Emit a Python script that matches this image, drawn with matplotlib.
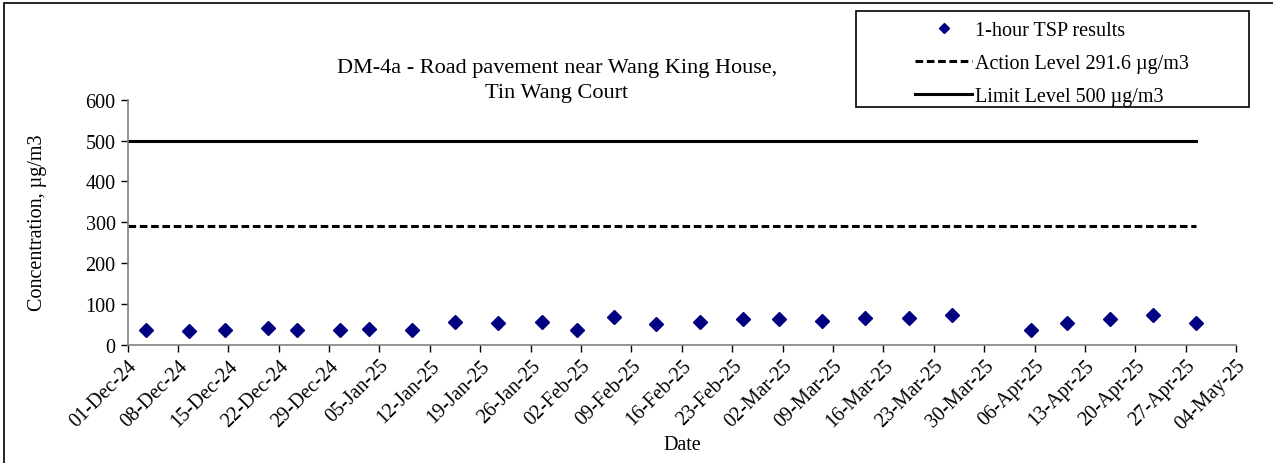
import matplotlib
matplotlib.use("Agg")
import matplotlib.pyplot as plt
import matplotlib.dates as mdates
import pandas as pd
from matplotlib.patches import Rectangle

plt.rcParams['font.family'] = ['Liberation Serif', 'DejaVu Serif']

# 1-hour TSP sampling times and results (ug/m3)
sample_times = [
    '2024-12-03 14:00', '2024-12-09 12:00', '2024-12-14 12:00', '2024-12-20 13:00',
    '2024-12-24 14:00', '2024-12-30 11:30', '2025-01-03 13:00', '2025-01-09 14:00',
    '2025-01-15 13:00', '2025-01-21 10:00', '2025-01-27 13:00', '2025-02-01 11:30',
    '2025-02-06 13:00', '2025-02-12 11:00', '2025-02-18 13:00', '2025-02-24 12:00',
    '2025-03-01 11:00', '2025-03-07 12:00', '2025-03-13 12:00', '2025-03-19 12:00',
    '2025-03-25 12:00', '2025-04-05 11:00', '2025-04-10 11:00', '2025-04-16 11:00',
    '2025-04-22 12:00', '2025-04-28 10:00',
]
tsp = [36, 34, 37, 40, 35, 37, 38, 36, 55, 53, 56, 36, 67, 50, 56, 63,
       62, 57, 66, 65, 72, 37, 54, 62, 73, 53]

action_level = 291.6
limit_level = 500
line_start = '2024-12-01 00:00'
axis_start = '2024-12-01'
axis_end = '2025-05-04'

times = pd.to_datetime(sample_times)
line_x = [pd.Timestamp(line_start), pd.Timestamp(sample_times[-1])]

W, H = 1273, 464
fig = plt.figure(figsize=(W / 100, H / 100), dpi=100)
ax = fig.add_axes([0.1002, 0.255, 0.8708, 0.528])

ax.plot(times, tsp, linestyle='none', marker='D', ms=7, color='#000080',
        label='1-hour TSP results')
ax.plot(line_x, [action_level] * 2, color='black', lw=2.2, ls=(0, (2.5, 1.2)),
        label='Action Level 291.6 \u00b5g/m3')
ax.plot(line_x, [limit_level] * 2, color='black', lw=2.2,
        label='Limit Level 500 \u00b5g/m3')

ax.set_xlim(pd.Timestamp(axis_start), pd.Timestamp(axis_end))
ax.set_ylim(0, 600)
ax.set_yticks(range(0, 601, 100))
ax.set_xticks(pd.date_range(axis_start, axis_end, freq='7D'))
ax.xaxis.set_major_formatter(mdates.DateFormatter('%d-%b-%y'))

for s in ['top', 'right']:
    ax.spines[s].set_visible(False)
for s in ['left', 'bottom']:
    ax.spines[s].set_color('#808080')
    ax.spines[s].set_linewidth(1.2)
ax.tick_params(axis='both', direction='out', length=5, color='black',
               labelsize=14.5, width=1)
ax.tick_params(axis='x', pad=3)
plt.setp(ax.get_xticklabels(), rotation=45, ha='right', rotation_mode='anchor')

ax.set_xlabel('Date', fontsize=14.5, labelpad=1)
ax.set_ylabel('Concentration, \u00b5g/m3', fontsize=14.5, labelpad=28)

fig.text(557 / W, 1 - 81 / H, 'DM-4a - Road pavement near Wang King House,\nTin Wang Court',
         ha='center', va='center', fontsize=16, linespacing=1.45)

leg = fig.legend(loc='upper left', bbox_to_anchor=(915 / W, 1 - 22 / H),
                 fontsize=14.5, frameon=False, borderpad=0, borderaxespad=0,
                 handlelength=2.85, handletextpad=0.15, markerscale=0.7,
                 labelspacing=0.7)

# legend box
fig.patches.append(Rectangle((856 / W, 1 - 108 / H), 393 / W, 96 / H,
                             transform=fig.transFigure, fill=False,
                             edgecolor='black', lw=1.2))
# outer chart frame
fig.patches.append(Rectangle((4 / W, -0.05), 1.2, 1 - 4 / H + 0.05,
                             transform=fig.transFigure, fill=False,
                             edgecolor='black', lw=1.2))

fig.savefig('out.png', dpi=100)
